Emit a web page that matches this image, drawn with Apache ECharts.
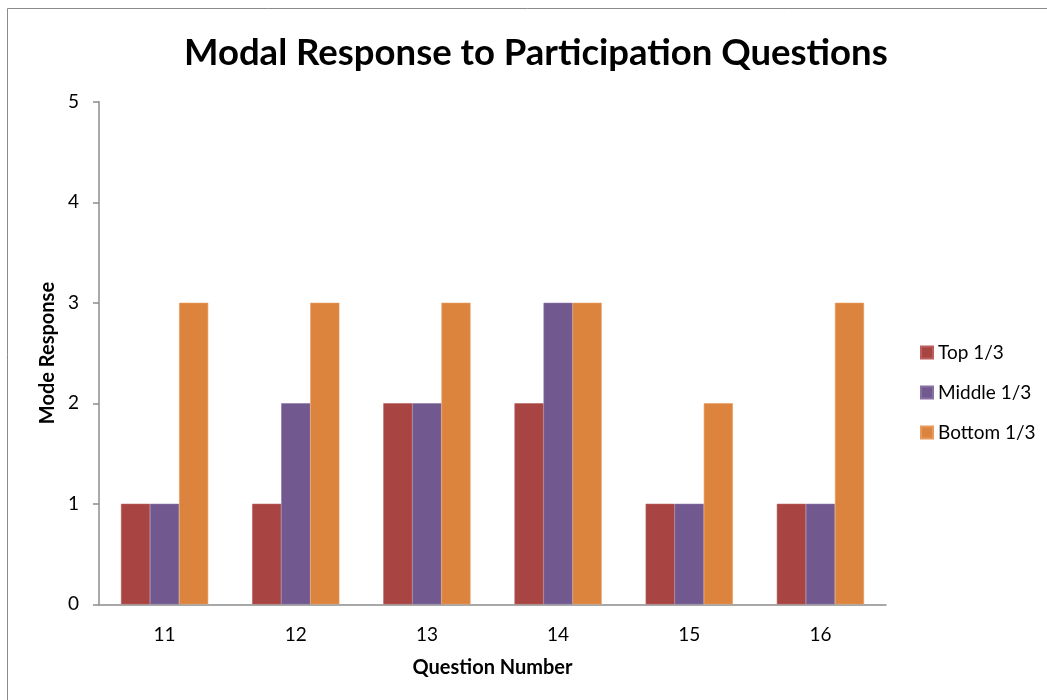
<!DOCTYPE html>
<html>
<head>
<meta charset="utf-8">
<style>
  html, body { margin: 0; padding: 0; background: #ffffff; }
  #chart { width: 1047px; height: 700px; }
</style>
<script src="https://cdn.jsdelivr.net/npm/echarts@6/dist/echarts.min.js"></script>
</head>
<body>
<div id="chart"></div>
<script>
// Question numbers along the x axis
const questions = ['11', '12', '13', '14', '15', '16'];
// Modal response per thirds of the class
const topThird = [1, 1, 2, 2, 1, 1];
const middleThird = [1, 2, 2, 3, 1, 1];
const bottomThird = [3, 3, 3, 3, 2, 3];
const seriesNames = ['Top 1/3', 'Middle 1/3', 'Bottom 1/3'];
const seriesColors = ['#A84441', '#71588F', '#DC843E'];
const edgeColors = ['#B9605C', '#8770A3', '#E89A5C'];

const FONT = 'Lato, "Open Sans", sans-serif';
const chart = echarts.init(document.getElementById('chart'), null, { renderer: 'canvas' });

const seriesData = [topThird, middleThird, bottomThird];

chart.setOption({
  backgroundColor: '#ffffff',
  animation: false,
  textStyle: { fontFamily: FONT },
  title: {
    text: 'Modal Response to Participation Questions',
    left: 179,
    top: 30,
    textStyle: { fontFamily: FONT, fontSize: 36.5, fontWeight: 'bold', color: '#000000' }
  },
  graphic: [{
    type: 'rect',
    shape: { x: 7.5, y: 8.5, width: 1100, height: 800 },
    style: { fill: 'none', stroke: '#8a8a8a', lineWidth: 1 },
    silent: true
  }],
  legend: {
    orient: 'vertical',
    left: 915,
    top: 338,
    itemWidth: 12,
    itemHeight: 12,
    itemGap: 21,
    icon: 'rect',
    data: seriesNames,
    textStyle: { fontFamily: FONT, fontSize: 19, lineHeight: 18, color: '#000000' }
  },
  grid: { left: 99, right: 161, top: 101.8, bottom: 95.7, containLabel: false },
  xAxis: {
    type: 'category',
    data: questions,
    name: 'Question Number',
    nameLocation: 'middle',
    nameGap: 53,
    nameTextStyle: { fontFamily: FONT, fontSize: 20, fontWeight: 'bold', color: '#000000' },
    axisLine: { show: true, lineStyle: { color: '#8c8c8c', width: 1.5 } },
    axisTick: { show: false },
    axisLabel: { fontFamily: FONT, fontSize: 19, color: '#000000', margin: 21 },
    splitLine: { show: false }
  },
  yAxis: {
    type: 'value',
    min: 0,
    max: 5,
    interval: 1,
    name: 'Mode Response',
    nameLocation: 'middle',
    nameGap: 37,
    nameRotate: 90,
    nameTextStyle: { fontFamily: FONT, fontSize: 20, fontWeight: 'bold', color: '#000000' },
    axisLine: { show: true, lineStyle: { color: '#8c8c8c', width: 1.5 } },
    axisTick: { show: true, inside: false, length: 6, lineStyle: { color: '#8c8c8c', width: 1.5 } },
    axisLabel: { fontFamily: FONT, fontSize: 19, color: '#000000', margin: 20 },
    splitLine: { show: false }
  },
  series: seriesNames.map((name, i) => ({
    name: name,
    type: 'bar',
    data: seriesData[i],
    barGap: '0%',
    barCategoryGap: '33.5%',
    itemStyle: { color: seriesColors[i], borderColor: edgeColors[i], borderWidth: 0.6 }
  }))
});
</script>
</body>
</html>
